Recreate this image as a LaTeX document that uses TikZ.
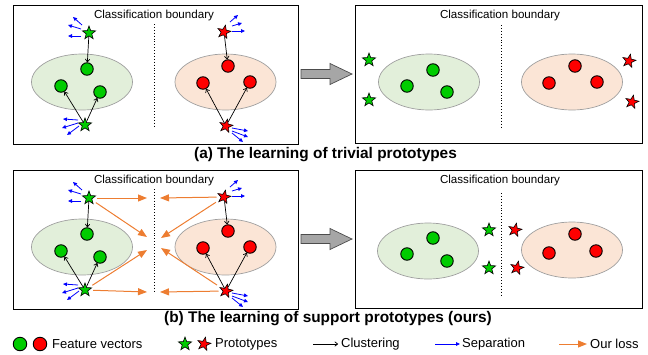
\documentclass[tikz,border=0pt]{standalone}
\usepackage{fontspec}
\setmainfont{Liberation Sans}
\usetikzlibrary{shapes.geometric, arrows.meta, positioning}

\definecolor{ptgreen}{RGB}{0,204,0}
\definecolor{ptred}{RGB}{255,0,0}
\definecolor{clgreen}{RGB}{226,239,218}
\definecolor{clred}{RGB}{251,229,214}
\definecolor{lossorange}{RGB}{237,125,49}
\definecolor{arrowgray}{RGB}{166,166,166}

\tikzset{
	panel/.style = {draw, line width=0.8pt},
	boxtext/.style = {inner sep=0pt, font=\fontsize{11.6}{13}\selectfont},
	boundary/.style = {dotted, line width=0.9pt},
	cluster/.style = {ellipse, draw=gray!75, line width=0.7pt,
		minimum width=101pt, minimum height=56pt, inner sep=0pt},
	feat/.style = {circle, draw, line width=0.9pt, minimum size=12.5pt, inner sep=0pt},
	proto/.style = {star, star points=5, star point ratio=2.4, draw,
		line width=0.6pt, minimum size=14pt, inner sep=0pt},
	clust/.style = {-{To[length=3.5pt,width=5pt]}, line width=0.7pt},
	sep/.style = {-{Triangle[length=4pt,width=3.6pt]}, blue, line width=0.8pt},
	loss/.style = {-{Triangle[length=9pt,width=7pt]}, lossorange, line width=1pt},
	lbl/.style = {anchor=west, inner sep=1pt, font=\fontsize{13}{15}\selectfont},
	title/.style = {font=\fontsize{15.4}{17}\selectfont\bfseries}
}

\begin{document}
\begin{tikzpicture}[x=1pt, y=-1pt]
	\useasboundingbox (0,0) rectangle (648,354);

	% left panels: (a) and (b) share the same clusters
	\foreach \dy/\p in {0/a, 165/b} {
		\begin{scope}[shift={(0,\dy)}, name prefix=\p-]
			\draw[panel] (13,5) rectangle (298,144);
			\node[boxtext] (cb) at (154,15) {Classification boundary};
			\coordinate (bt) at (154,24);
			\coordinate (bb) at (154,128);
			\draw[boundary] (bt) -- (bb);
			\node (gc) [cluster, fill=clgreen] at (82,82) {};
			\node (rc) [cluster, fill=clred] at (225.5,82) {};
			\node (g1) [feat, fill=ptgreen] at (87,69) {};
			\node (g2) [feat, fill=ptgreen] at (61,86) {};
			\node (g3) [feat, fill=ptgreen] at (100,92) {};
			\node (r1) [feat, fill=ptred] at (228,66) {};
			\node (r2) [feat, fill=ptred] at (203,83) {};
			\node (r3) [feat, fill=ptred] at (250,82) {};
			\node (gt) [proto, fill=ptgreen] at (89,33) {};
			\node (gb) [proto, fill=ptgreen] at (85,125) {};
			\node (rt) [proto, fill=ptred, shape border rotate=-12] at (224,32) {};
			\node (rb) [proto, fill=ptred, shape border rotate=-12] at (226,126) {};
			\path [clust]
			(gt) edge (g1)
			(gb) edge (g2)
			(gb) edge (g3)
			(rt) edge (r1)
			(rb) edge (r2)
			(rb) edge (r3);
			% separation arrows
			\draw[sep] (gt) ++(-7,-8) -- ++(-9,-8);
			\draw[sep] (gt) ++(-8,-4) -- ++(-13,-4);
			\draw[sep] (gt) ++(-8,3) -- ++(-13,0);
			\draw[sep] (gb) ++(-7,-5) -- ++(-15,-1);
			\draw[sep] (gb) ++(-7,-2) -- ++(-16,5);
			\draw[sep] (gb) ++(-6,1) -- ++(-12,9);
			\draw[sep] (rt) ++(6,-10) -- ++(8,-7);
			\draw[sep] (rt) ++(8,-6) -- ++(10,-3);
			\draw[sep] (rt) ++(8,-1) -- ++(13,0);
			\draw[sep] (rb) ++(6,2) -- ++(16,3);
			\draw[sep] (rb) ++(6,5) -- ++(16,6);
			\draw[sep] (rb) ++(6,7) -- ++(11,9);
			% big arrow to the right panel
			\draw[fill=arrowgray, draw=black!70, line width=0.7pt]
			(301,69.5) -- (330,69.5) -- (330,63.5) -- (352,74) -- (330,84.5)
			-- (330,78.5) -- (301,78.5) -- cycle;
		\end{scope}
	}

	% our loss
	\coordinate (lt1) at (147,198);
	\coordinate (lt2) at (147,237);
	\coordinate (lt3) at (147,250);
	\coordinate (lt4) at (147,292);
	\coordinate (rt1) at (160,198);
	\coordinate (rt2) at (161,238);
	\coordinate (rt3) at (161,248);
	\coordinate (rt4) at (160,292);
	\path [loss, shorten <=4pt]
	(b-gt) edge (lt1)
	(b-gt) edge (lt2)
	(b-gb) edge (lt3)
	(b-gb) edge (lt4)
	(b-rt) edge (rt1)
	(b-rt) edge (rt2)
	(b-rb) edge (rt3)
	(b-rb) edge (rt4);

	% right panel (a)
	\draw[panel] (355,5) rectangle (642,143);
	\node[boxtext] (cba) at (500,15) {Classification boundary};
	\coordinate (bta) at (501,25);
	\coordinate (bba) at (501,128);
	\draw[boundary] (bta) -- (bba);
	\node (gca) [cluster, fill=clgreen] at (429,82) {};
	\node (rca) [cluster, fill=clred] at (572,82) {};
	\node (ga1) [feat, fill=ptgreen] at (433,70) {};
	\node (ga2) [feat, fill=ptgreen] at (407,86) {};
	\node (ga3) [feat, fill=ptgreen] at (447,92) {};
	\node (ra1) [feat, fill=ptred] at (575,66) {};
	\node (ra2) [feat, fill=ptred] at (549,83) {};
	\node (ra3) [feat, fill=ptred] at (597,82) {};
	\node (gsa1) [proto, fill=ptgreen] at (369,60) {};
	\node (gsa2) [proto, fill=ptgreen] at (369,100) {};
	\node (rsa1) [proto, fill=ptred, shape border rotate=-12] at (629,61) {};
	\node (rsa2) [proto, fill=ptred, shape border rotate=-12] at (632,102) {};

	% right panel (b)
	\draw[panel] (355,170) rectangle (642,308);
	\node[boxtext] (cbb) at (500,180) {Classification boundary};
	\coordinate (btb) at (501,193);
	\coordinate (bbb) at (501,297);
	\draw[boundary] (btb) -- (bbb);
	\node (gcb) [cluster, fill=clgreen] at (428,251) {};
	\node (rcb) [cluster, fill=clred] at (572,250) {};
	\node (gb1) [feat, fill=ptgreen] at (433,238) {};
	\node (gb2) [feat, fill=ptgreen] at (407,254) {};
	\node (gb3) [feat, fill=ptgreen] at (447,261) {};
	\node (rb1) [feat, fill=ptred] at (575,234) {};
	\node (rb2) [feat, fill=ptred] at (549,253) {};
	\node (rb3) [feat, fill=ptred] at (596,251) {};
	\node (gsb1) [proto, fill=ptgreen] at (489,230) {};
	\node (gsb2) [proto, fill=ptgreen] at (489,268) {};
	\node (rsb1) [proto, fill=ptred, shape border rotate=-12] at (515,230) {};
	\node (rsb2) [proto, fill=ptred, shape border rotate=-12] at (517,268) {};

	% captions
	\node[title] (capa) at (325.5,155) {(a) The learning of trivial prototypes};
	\node[title] (capb) at (328,319) {(b) The learning of support prototypes (ours)};

	% legend
	\node (lg1) [feat, fill=ptgreen, minimum size=13.5pt] at (20,344) {};
	\node (lg2) [feat, fill=ptred, minimum size=13.5pt] at (40,344) {};
	\node (lfeat) [lbl] at (51,344) {Feature vectors};
	\node (ls1) [proto, fill=ptgreen] at (185,344) {};
	\node (ls2) [proto, fill=ptred, shape border rotate=-12] at (204,344) {};
	\node (lproto) [lbl] at (214,344) {Prototypes};
	\node (lclu) [lbl] at (340,344) {Clustering};
	\node (lsep) [lbl] at (461,344) {Separation};
	\node (lloss) [lbl] at (589,344) {Our loss};
	\draw[clust, shorten >=2pt] ([xshift=-27pt]lclu.west) -- (lclu.west);
	\draw[sep, shorten >=1pt] ([xshift=-26pt]lsep.west) -- (lsep.west);
	\draw[loss, shorten >=2pt] ([xshift=-30pt]lloss.west) -- (lloss.west);
\end{tikzpicture}
\end{document}
